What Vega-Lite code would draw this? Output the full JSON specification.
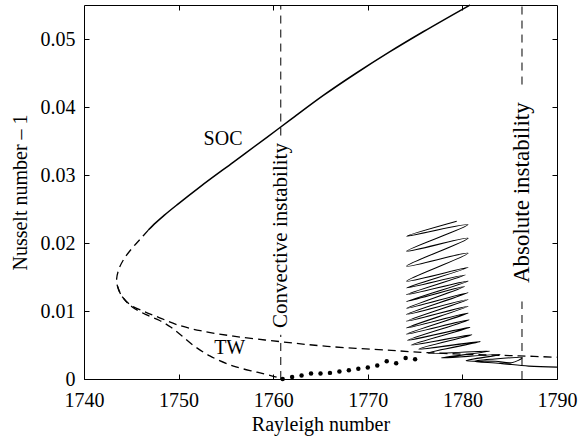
{
  "$schema": "https://vega.github.io/schema/vega-lite/v6.json",
  "width": 473,
  "height": 374,
  "autosize": {"type": "none"},
  "padding": {"left": 84, "top": 5, "right": 22, "bottom": 57},
  "config": {
    "view": {"stroke": "black", "strokeWidth": 1},
    "axis": {
      "grid": false,
      "domain": false,
      "labelFlush": false,
      "labelFontSize": 20,
      "labelColor": "black",
      "titleFontSize": 20,
      "titleFontWeight": "normal",
      "titleColor": "black",
      "tickColor": "black",
      "tickSize": -5,
      "tickWidth": 1
    }
  },
  "resolve": {"axis": {"x": "independent", "y": "independent"}},
  "datasets": {
    "soc": [
      {"x": 1746.8, "y": 0.0219},
      {"x": 1747.6, "y": 0.0230},
      {"x": 1748.5, "y": 0.0241},
      {"x": 1750.0, "y": 0.0258},
      {"x": 1752.3, "y": 0.0283},
      {"x": 1755.8, "y": 0.0319},
      {"x": 1759.3, "y": 0.0355},
      {"x": 1761.8, "y": 0.0381},
      {"x": 1765.3, "y": 0.0417},
      {"x": 1768.8, "y": 0.0450},
      {"x": 1772.3, "y": 0.0481},
      {"x": 1775.9, "y": 0.0511},
      {"x": 1780.8, "y": 0.0550}
    ],
    "unstable": [
      {"s": "a", "i": 0, "x": 1746.8, "y": 0.0219},
      {"s": "a", "i": 1, "x": 1745.9, "y": 0.0205},
      {"s": "a", "i": 2, "x": 1745.0, "y": 0.0191},
      {"s": "a", "i": 3, "x": 1744.2, "y": 0.0176},
      {"s": "a", "i": 4, "x": 1743.7, "y": 0.0162},
      {"s": "a", "i": 5, "x": 1743.45, "y": 0.0147},
      {"s": "a", "i": 6, "x": 1743.55, "y": 0.0136},
      {"s": "a", "i": 7, "x": 1744.1, "y": 0.0120},
      {"s": "a", "i": 8, "x": 1745.1, "y": 0.0106},
      {"s": "a", "i": 9, "x": 1746.5, "y": 0.0095},
      {"s": "a", "i": 10, "x": 1748.0, "y": 0.0086},
      {"s": "a", "i": 11, "x": 1749.2, "y": 0.0076},
      {"s": "a", "i": 12, "x": 1750.3, "y": 0.0064},
      {"s": "a", "i": 13, "x": 1751.6, "y": 0.0049},
      {"s": "a", "i": 14, "x": 1753.3, "y": 0.0034},
      {"s": "a", "i": 15, "x": 1755.8, "y": 0.0019},
      {"s": "a", "i": 16, "x": 1758.3, "y": 0.0010},
      {"s": "a", "i": 17, "x": 1760.0, "y": 0.0004},
      {"s": "a", "i": 18, "x": 1761.0, "y": 0.0},
      {"s": "b", "i": 0, "x": 1743.55, "y": 0.0136},
      {"s": "b", "i": 1, "x": 1743.9, "y": 0.0124},
      {"s": "b", "i": 2, "x": 1744.9, "y": 0.0109},
      {"s": "b", "i": 3, "x": 1746.4, "y": 0.0099},
      {"s": "b", "i": 4, "x": 1748.0, "y": 0.0090},
      {"s": "b", "i": 5, "x": 1749.8, "y": 0.0080},
      {"s": "b", "i": 6, "x": 1752.3, "y": 0.0071},
      {"s": "b", "i": 7, "x": 1755.8, "y": 0.0063},
      {"s": "b", "i": 8, "x": 1760.7, "y": 0.0055},
      {"s": "b", "i": 9, "x": 1765.7, "y": 0.0048},
      {"s": "b", "i": 10, "x": 1772.5, "y": 0.0042},
      {"s": "b", "i": 11, "x": 1776.0, "y": 0.0039},
      {"s": "b", "i": 12, "x": 1781.0, "y": 0.0036},
      {"s": "b", "i": 13, "x": 1786.0, "y": 0.0034},
      {"s": "b", "i": 14, "x": 1790.0, "y": 0.0032}
    ],
    "osc": [
      {"i": 0, "x": 1779.4, "y": 0.0232},
      {"i": 1, "x": 1774.1, "y": 0.0210},
      {"i": 2, "x": 1780.6, "y": 0.0227},
      {"i": 3, "x": 1774.1, "y": 0.0188},
      {"i": 4, "x": 1780.6, "y": 0.0207},
      {"i": 5, "x": 1774.1, "y": 0.0166},
      {"i": 6, "x": 1780.6, "y": 0.0185},
      {"i": 7, "x": 1774.1, "y": 0.0144},
      {"i": 8, "x": 1780.6, "y": 0.0164},
      {"i": 9, "x": 1774.1, "y": 0.0134},
      {"i": 10, "x": 1780.3, "y": 0.0153},
      {"i": 11, "x": 1774.1, "y": 0.0124},
      {"i": 12, "x": 1780.6, "y": 0.0144},
      {"i": 13, "x": 1774.1, "y": 0.0114},
      {"i": 14, "x": 1780.2, "y": 0.0136},
      {"i": 15, "x": 1774.1, "y": 0.0104},
      {"i": 16, "x": 1780.6, "y": 0.0127},
      {"i": 17, "x": 1774.1, "y": 0.0095},
      {"i": 18, "x": 1780.6, "y": 0.0117},
      {"i": 19, "x": 1774.1, "y": 0.0085},
      {"i": 20, "x": 1780.6, "y": 0.0107},
      {"i": 21, "x": 1774.1, "y": 0.0075},
      {"i": 22, "x": 1780.6, "y": 0.0097},
      {"i": 23, "x": 1774.1, "y": 0.0066},
      {"i": 24, "x": 1780.7, "y": 0.0087},
      {"i": 25, "x": 1774.2, "y": 0.0057},
      {"i": 26, "x": 1780.8, "y": 0.0076},
      {"i": 27, "x": 1774.6, "y": 0.0050},
      {"i": 28, "x": 1781.0, "y": 0.0065},
      {"i": 29, "x": 1775.4, "y": 0.0044},
      {"i": 30, "x": 1781.9, "y": 0.0055},
      {"i": 31, "x": 1776.4, "y": 0.0038},
      {"i": 32, "x": 1782.9, "y": 0.0041},
      {"i": 33, "x": 1777.8, "y": 0.0031},
      {"i": 34, "x": 1784.0, "y": 0.0036},
      {"i": 35, "x": 1780.4, "y": 0.0027},
      {"i": 36, "x": 1783.5, "y": 0.0026},
      {"i": 37, "x": 1785.2, "y": 0.0024},
      {"i": 38, "x": 1786.3, "y": 0.0031},
      {"i": 39, "x": 1783.0, "y": 0.0029},
      {"i": 40, "x": 1781.2, "y": 0.0026},
      {"i": 41, "x": 1784.0, "y": 0.0023},
      {"i": 42, "x": 1787.0, "y": 0.0019},
      {"i": 43, "x": 1790.0, "y": 0.00175}
    ],
    "dots": [
      {"x": 1761, "y": 0.0000},
      {"x": 1762, "y": 0.0003},
      {"x": 1763, "y": 0.0005},
      {"x": 1764, "y": 0.0008},
      {"x": 1765, "y": 0.0008},
      {"x": 1766, "y": 0.0009},
      {"x": 1767, "y": 0.0011},
      {"x": 1768, "y": 0.0013},
      {"x": 1769, "y": 0.0015},
      {"x": 1770, "y": 0.0017},
      {"x": 1771, "y": 0.0020},
      {"x": 1772, "y": 0.0026},
      {"x": 1773, "y": 0.0023},
      {"x": 1774, "y": 0.0031},
      {"x": 1775, "y": 0.0029}
    ],
    "vlines": [
      {"x": 1760.8, "y": 0, "y2": 0.0065},
      {"x": 1760.8, "y": 0.0358, "y2": 0.055},
      {"x": 1786.3, "y": 0, "y2": 0.0114},
      {"x": 1786.3, "y": 0.0433, "y2": 0.055}
    ],
    "vlabels": [
      {"x": 1760.8, "y": 0.0211, "t": "Convective instability", "fs": 21},
      {"x": 1786.3, "y": 0.0274, "t": "Absolute instability", "fs": 23}
    ],
    "labels": [
      {"x": 1754.7, "y": 0.0353, "t": "SOC"},
      {"x": 1755.4, "y": 0.0046, "t": "TW"}
    ]
  },
  "layer": [
    {
      "data": {"name": "soc"},
      "mark": {"type": "line", "color": "black", "strokeWidth": 1.5, "interpolate": "monotone"},
      "encoding": {
        "x": {
          "field": "x", "type": "quantitative",
          "scale": {"domain": [1740, 1790], "nice": false, "zero": false},
          "axis": {"orient": "bottom", "values": [1740, 1750, 1760, 1770, 1780, 1790], "format": "d", "title": "Rayleigh number", "labelPadding": 16, "titlePadding": 4, "labelFont": "Liberation Serif", "titleFont": "Liberation Serif"}
        },
        "y": {
          "field": "y", "type": "quantitative",
          "scale": {"domain": [0, 0.055], "nice": false, "zero": true},
          "axis": {"orient": "left", "values": [0, 0.01, 0.02, 0.03, 0.04, 0.05], "format": ".2~f", "title": "Nusselt number – 1", "labelPadding": 14, "titlePadding": 10, "labelFont": "Liberation Serif", "titleFont": "Liberation Serif"}
        }
      }
    },
    {
      "data": {"name": "unstable"},
      "mark": {"type": "line", "color": "black", "strokeWidth": 1.3, "strokeDash": [8, 5], "interpolate": "catmull-rom"},
      "encoding": {
        "x": {"field": "x", "type": "quantitative", "axis": null},
        "y": {"field": "y", "type": "quantitative", "axis": null},
        "detail": {"field": "s"},
        "order": {"field": "i"}
      }
    },
    {
      "data": {"name": "osc"},
      "mark": {"type": "line", "color": "black", "strokeWidth": 1.1, "interpolate": "catmull-rom"},
      "encoding": {
        "x": {"field": "x", "type": "quantitative", "axis": null},
        "y": {"field": "y", "type": "quantitative", "axis": null},
        "order": {"field": "i"}
      }
    },
    {
      "data": {"name": "vlines"},
      "mark": {"type": "rule", "color": "black", "strokeWidth": 1, "strokeDash": [8, 6]},
      "encoding": {
        "x": {"field": "x", "type": "quantitative", "axis": null},
        "y": {"field": "y", "type": "quantitative", "axis": null},
        "y2": {"field": "y2"}
      }
    },
    {
      "data": {"name": "dots"},
      "mark": {"type": "point", "filled": true, "size": 20, "color": "black", "opacity": 1},
      "encoding": {
        "x": {"field": "x", "type": "quantitative", "axis": {"orient": "top", "values": [1750, 1760, 1770, 1780], "labels": false, "title": null}},
        "y": {"field": "y", "type": "quantitative", "axis": {"orient": "right", "values": [0.01, 0.02, 0.03, 0.04, 0.05], "labels": false, "title": null}}
      }
    },
    {
      "data": {"name": "vlabels"},
      "mark": {"type": "text", "angle": 270, "align": "center", "baseline": "middle", "font": "Liberation Serif", "color": "black"},
      "encoding": {
        "x": {"field": "x", "type": "quantitative", "axis": null},
        "y": {"field": "y", "type": "quantitative", "axis": null},
        "text": {"field": "t"},
        "size": {"field": "fs", "type": "quantitative", "scale": null, "legend": null}
      }
    },
    {
      "data": {"name": "labels"},
      "mark": {"type": "text", "align": "center", "baseline": "middle", "fontSize": 20, "font": "Liberation Serif", "color": "black"},
      "encoding": {
        "x": {"field": "x", "type": "quantitative", "axis": null},
        "y": {"field": "y", "type": "quantitative", "axis": null},
        "text": {"field": "t"}
      }
    }
  ]
}
